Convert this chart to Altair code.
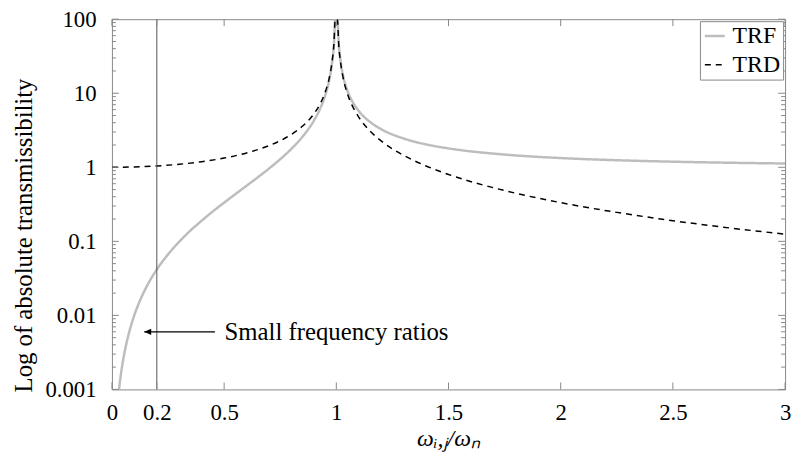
import altair as alt
import pandas as pd

# ---- data ----
trf_x = [0.0316, 0.035, 0.04, 0.05, 0.06, 0.07, 0.08, 0.1, 0.12, 0.15,
         0.2, 0.25, 0.3, 0.35, 0.4, 0.45, 0.5, 0.55, 0.6, 0.65,
         0.7, 0.75, 0.8, 0.85, 0.9, 0.93, 0.95, 0.97, 0.98, 0.99,
         0.995, 1.005, 1.01, 1.02, 1.03, 1.05, 1.07, 1.1, 1.15, 1.2,
         1.3, 1.4, 1.5, 1.75, 2.0, 2.25, 2.5, 2.75, 3.0]
trf_y = [0.001, 0.00123, 0.0016, 0.00251, 0.00361, 0.00492, 0.00644, 0.0101, 0.0146, 0.0230,
         0.0417, 0.0667, 0.0989, 0.140, 0.190, 0.254, 0.333, 0.434, 0.563, 0.732,
         0.961, 1.286, 1.778, 2.604, 4.263, 6.40, 9.26, 15.9, 24.3, 49.3,
         99.3, 100.8, 50.8, 25.8, 17.4, 10.76, 7.90, 5.76, 4.10, 3.27,
         2.45, 2.04, 1.80, 1.485, 1.333, 1.246, 1.190, 1.152, 1.125]

trd_x = [0, 0.1, 0.2, 0.3, 0.4, 0.5, 0.6, 0.7, 0.75,
         0.8, 0.85, 0.9, 0.93, 0.95, 0.97, 0.98, 0.99, 0.995,
         1.005, 1.01, 1.02, 1.03, 1.05, 1.07, 1.1, 1.15, 1.2,
         1.3, 1.4, 1.5, 1.75, 2.0, 2.25, 2.5, 2.75, 3.0]
trd_y = [1.0, 1.010, 1.042, 1.099, 1.190, 1.333, 1.563, 1.961, 2.286,
         2.778, 3.604, 5.263, 7.40, 10.26, 16.9, 25.3, 50.3, 100.3,
         99.8, 49.8, 24.8, 16.4, 9.76, 6.90, 4.76, 3.10, 2.27,
         1.449, 1.042, 0.800, 0.485, 0.333, 0.246, 0.190, 0.152, 0.125]

series_names = ["TRF", "TRD"]
x_ticks = [0, 0.2, 0.5, 1, 1.5, 2, 2.5, 3]
y_ticks = [0.001, 0.01, 0.1, 1, 10, 100]
y_minor = [m * d for d in [0.001, 0.01, 0.1, 1, 10] for m in range(2, 10)]
marker_x = [0.2]
arrow_x = [0.144, 0.459]
arrow_y = [0.006, 0.006]
note_x = [0.502]
note_y = [0.006]
note_text = ["Small frequency ratios"]

# ---- tables ----
lines = pd.DataFrame(
    [{"series": "TRF", "x": a, "y": b} for a, b in zip(trf_x, trf_y)]
    + [{"series": "TRD", "x": a, "y": b} for a, b in zip(trd_x, trd_y)]
)
xt = pd.DataFrame({"x": x_ticks})
yt = pd.DataFrame({"y": y_ticks})
ym = pd.DataFrame({"y": y_minor})
vl = pd.DataFrame({"x": marker_x})
arr = pd.DataFrame({"x": arrow_x, "y": arrow_y})
head = pd.DataFrame({"x": arrow_x[:1], "y": arrow_y[:1]})
note = pd.DataFrame({"x": note_x, "y": note_y, "t": note_text})

W, H = 680, 374
FONT = "Liberation Serif"
FRAME = "#888888"

xs = alt.Scale(domain=[0, 3], nice=False, zero=False)
ys = alt.Scale(type="log", domain=[0.001, 100], nice=False)

X_AX = alt.Axis(
    values=x_ticks, format="~g", title="ωᵢ,ⱼ/ωₙ",
    titleFontStyle="italic", titleFontWeight="normal", titleFontSize=24,
    titleBaseline="middle", titleY=50, labelPadding=12, labelFlush=False)
Y_AX = alt.Axis(
    values=y_ticks, format="~g", title="Log of absolute transmissibility",
    titleFontWeight="normal", titleFontSize=25, titleBaseline="middle",
    titleAlign="center", titleAngle=270,
    titleX=-89, titleY=218, labelPadding=16)


def X(f="x"):
    return alt.X(f + ":Q", scale=xs, axis=X_AX)


def Y(f="y"):
    return alt.Y(f + ":Q", scale=ys, axis=Y_AX)


main = alt.Chart(lines).mark_line(clip=True, interpolate="monotone").encode(
    x=X(), y=Y(),
    color=alt.Color("series:N", scale=alt.Scale(domain=series_names, range=["#bdbdbd", "#000000"]),
                    legend=alt.Legend(title=None)),
    strokeDash=alt.StrokeDash("series:N", scale=alt.Scale(domain=series_names, range=[[1, 0], [6, 5]]),
                              legend=alt.Legend(title=None)),
    strokeWidth=alt.StrokeWidth("series:N", scale=alt.Scale(domain=series_names, range=[2.5, 1.5]),
                                legend=None),
)

vline = alt.Chart(vl).mark_rule(color="#555555", strokeWidth=1).encode(
    x=X(), y=alt.value(0), y2=alt.value(H))

tick_bot = alt.Chart(xt).mark_rule(color=FRAME).encode(
    x=X(), y=alt.value(H), y2=alt.value(H - 7))
tick_top = alt.Chart(xt).mark_rule(color=FRAME).encode(
    x=X(), y=alt.value(0), y2=alt.value(7))
tick_l = alt.Chart(yt).mark_rule(color=FRAME).encode(
    y=Y(), x=alt.value(0), x2=alt.value(7))
tick_r = alt.Chart(yt).mark_rule(color=FRAME).encode(
    y=Y(), x=alt.value(W), x2=alt.value(W - 7))
mtick_l = alt.Chart(ym).mark_rule(color=FRAME).encode(
    y=Y(), x=alt.value(0), x2=alt.value(4))
mtick_r = alt.Chart(ym).mark_rule(color=FRAME).encode(
    y=Y(), x=alt.value(W), x2=alt.value(W - 4))

arrow_line = alt.Chart(arr).mark_line(color="black", strokeWidth=1.2).encode(
    x=X(), y=Y())
arrow_head = alt.Chart(head).mark_point(
    shape="M0,0L2,-0.9L2,0.9Z", filled=True, color="black", opacity=1, size=49).encode(
    x=X(), y=Y())
note_txt = alt.Chart(note).mark_text(
    align="left", baseline="middle", font=FONT, fontSize=25, color="black").encode(
    x=X(), y=Y(), text="t:N")

chart = alt.layer(
    main, vline, tick_bot, tick_top, tick_l, tick_r, mtick_l, mtick_r,
    arrow_line, arrow_head, note_txt
).properties(
    width=W, height=H,
    autosize=alt.AutoSizeParams(type="none"),
    padding={"left": 105, "top": 9, "right": 7, "bottom": 71},
).configure_view(
    stroke=FRAME, strokeWidth=1
).configure_axis(
    labelFont=FONT, labelFontSize=23, labelColor="black",
    titleFont=FONT, titleColor="black",
    ticks=False, tickSize=0, domain=False, grid=False,
).configure_legend(
    orient="top-right", offset=2, strokeColor=FRAME, fillColor="white",
    padding=3, labelFont=FONT, labelFontSize=24, labelColor="black",
    symbolType="stroke", symbolSize=400, symbolStrokeWidth=2, labelOffset=6,
    rowPadding=5,
)

chart.save("out.html", embed_options={"renderer": "svg", "actions": False})
